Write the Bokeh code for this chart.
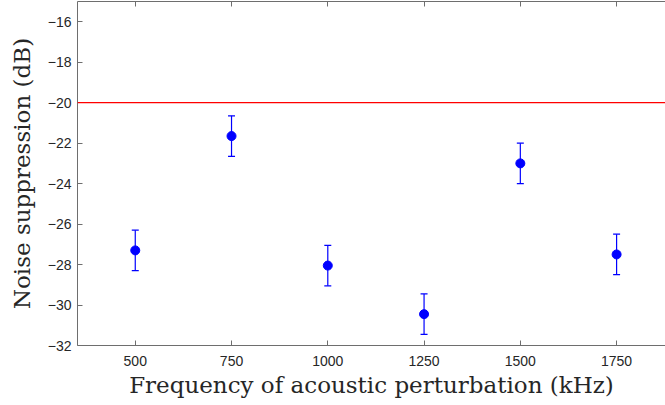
from bokeh.plotting import figure
from bokeh.models import ColumnDataSource, Whisker, Span, LinearAxis, FixedTicker, Range1d, TeeHead
from bokeh.embed import file_html
from bokeh.resources import INLINE

freq = [500, 750, 1000, 1250, 1500, 1750]
suppression = [-27.3, -21.65, -28.05, -30.45, -23.0, -27.5]
err = [1.0, 1.0, 1.0, 1.0, 1.0, 1.0]
threshold = -20
x_ticks = [500, 750, 1000, 1250, 1500, 1750]
y_ticks = [-32, -30, -28, -26, -24, -22, -20, -18, -16]

src = ColumnDataSource(dict(
    x=freq, y=suppression,
    lo=[s - e for s, e in zip(suppression, err)],
    hi=[s + e for s, e in zip(suppression, err)],
))

p = figure(width=665, height=405, output_backend="svg", toolbar_location=None,
           x_range=Range1d(350, 1877), y_range=Range1d(-32, -15),
           min_border_left=77, min_border_right=0, min_border_top=1, min_border_bottom=60)
p.outline_line_color = None
p.xgrid.visible = False
p.ygrid.visible = False
p.background_fill_color = "white"
p.border_fill_color = "white"

axis_col = "#6e6e6e"
for ax in (p.xaxis[0], p.yaxis[0]):
    ax.axis_line_color = axis_col
    ax.major_tick_line_color = axis_col
    ax.minor_tick_line_color = None
    ax.major_tick_in = 5
    ax.major_tick_out = 0
    ax.major_label_text_font = "Liberation Sans"
    ax.major_label_text_font_size = "14px"
    ax.major_label_text_color = "#262626"
    ax.axis_label_text_font = "DejaVu Serif"
    ax.axis_label_text_font_size = "23px"
    ax.axis_label_text_font_style = "normal"
    ax.axis_label_text_color = "#262626"

p.xaxis[0].ticker = FixedTicker(ticks=x_ticks)
p.yaxis[0].ticker = FixedTicker(ticks=y_ticks)
p.xaxis[0].axis_label = "Frequency of acoustic perturbation (kHz)"
p.yaxis[0].axis_label = "Noise suppression (dB)"
p.xaxis[0].major_label_standoff = 10
p.yaxis[0].major_label_standoff = 6
p.xaxis[0].axis_label_standoff = 3
p.yaxis[0].axis_label_standoff = 10

top = LinearAxis(ticker=FixedTicker(ticks=x_ticks), major_label_text_color=None,
                 axis_line_color=axis_col, major_tick_line_color=axis_col,
                 minor_tick_line_color=None, major_tick_in=5, major_tick_out=0,
                 major_label_standoff=0)
p.add_layout(top, "above")

p.add_layout(Span(location=threshold, dimension="width", line_color="red", line_width=1.3))

p.add_layout(Whisker(source=src, base="x", upper="hi", lower="lo", line_color="blue",
                     line_width=1.2,
                     upper_head=TeeHead(size=7, line_color="blue", line_width=1.2),
                     lower_head=TeeHead(size=7, line_color="blue", line_width=1.2)))
p.scatter("x", "y", source=src, size=9, color="blue")

open("out.html", "w").write(file_html(p, INLINE))
